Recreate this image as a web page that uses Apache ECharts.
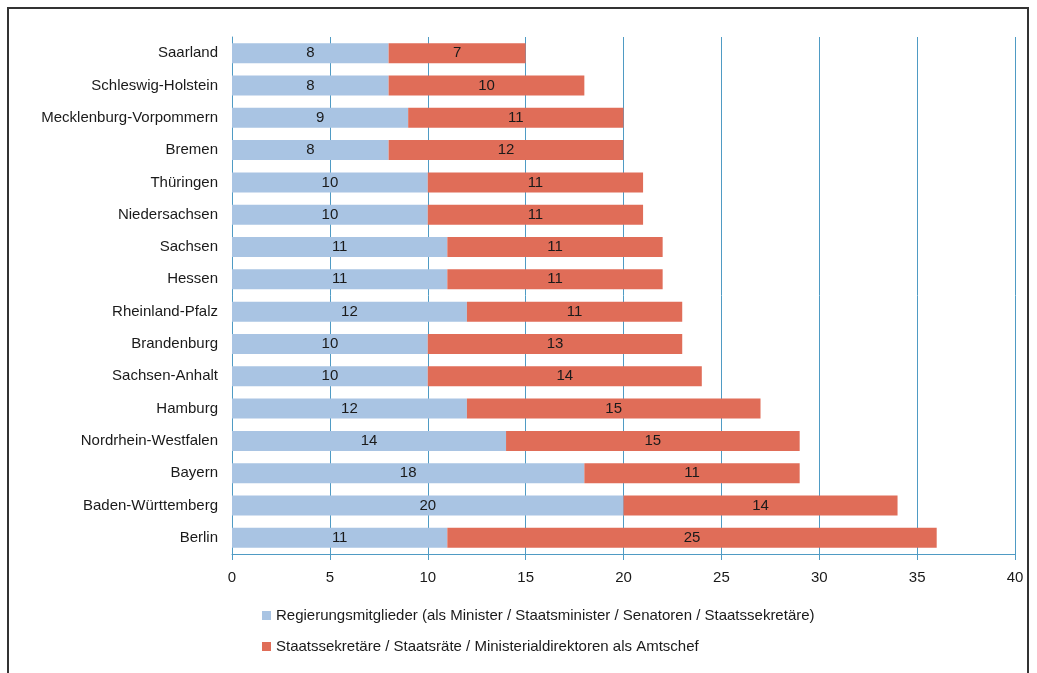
<!DOCTYPE html>
<html><head><meta charset="utf-8">
<script src="https://cdn.jsdelivr.net/npm/echarts@6/dist/echarts.min.js"></script>
<style>html,body{margin:0;padding:0;background:#fff}#c{width:1037px;height:673px}</style>
</head><body><div id="c"></div>
<script>
const categories = ["Saarland","Schleswig-Holstein","Mecklenburg-Vorpommern","Bremen","Thüringen","Niedersachsen","Sachsen","Hessen","Rheinland-Pfalz","Brandenburg","Sachsen-Anhalt","Hamburg","Nordrhein-Westfalen","Bayern","Baden-Württemberg","Berlin"];
const regierung = [8,8,9,8,10,10,11,11,12,10,10,12,14,18,20,11];
const staatssekretaere = [7,10,11,12,11,11,11,11,11,13,14,15,15,11,14,25];
const seriesNames = ["Regierungsmitglieder (als Minister / Staatsminister / Senatoren / Staatssekretäre)","Staatssekretäre / Staatsräte / Ministerialdirektoren als Amtschef"];
const font = "'Liberation Sans', Arial, sans-serif";
const chart = echarts.init(document.getElementById('c'));
const lbl = {show:true, position:'inside', color:'#1a1a1a', fontSize:15, fontFamily:font};
chart.setOption({
  animation:false,
  grid:{left:232, right:22, top:37, bottom:119, containLabel:false},
  xAxis:{type:'value', min:0, max:40, interval:5,
    axisLine:{show:true, lineStyle:{color:'#4f9bc4'}},
    axisTick:{show:true, length:6, lineStyle:{color:'#4f9bc4'}},
    axisLabel:{color:'#1a1a1a', fontSize:15, fontFamily:font, margin:16},
    splitLine:{show:true, lineStyle:{color:'#4f9bc4', width:1}}},
  yAxis:{type:'category', data:categories, inverse:true,
    axisLine:{show:true, lineStyle:{color:'#4f9bc4'}},
    axisTick:{show:false},
    axisLabel:{color:'#1a1a1a', fontSize:15, fontFamily:font, margin:14}},
  legend:{orient:'vertical', left:257, top:603, itemWidth:9, itemHeight:9, itemGap:16,
    icon:'rect', textStyle:{color:'#1a1a1a', fontSize:15, fontFamily:font}},
  series:[
    {name:seriesNames[0], type:'bar', stack:'a', data:regierung, barWidth:'62%', itemStyle:{color:'#a9c4e3'}, label:lbl},
    {name:seriesNames[1], type:'bar', stack:'a', data:staatssekretaere, barWidth:'62%', itemStyle:{color:'#e06d58'}, label:lbl}
  ],
  graphic:[{type:'rect', shape:{x:8, y:8, width:1020, height:700}, style:{fill:'none', stroke:'#333', lineWidth:2}}]
});
</script></body></html>
